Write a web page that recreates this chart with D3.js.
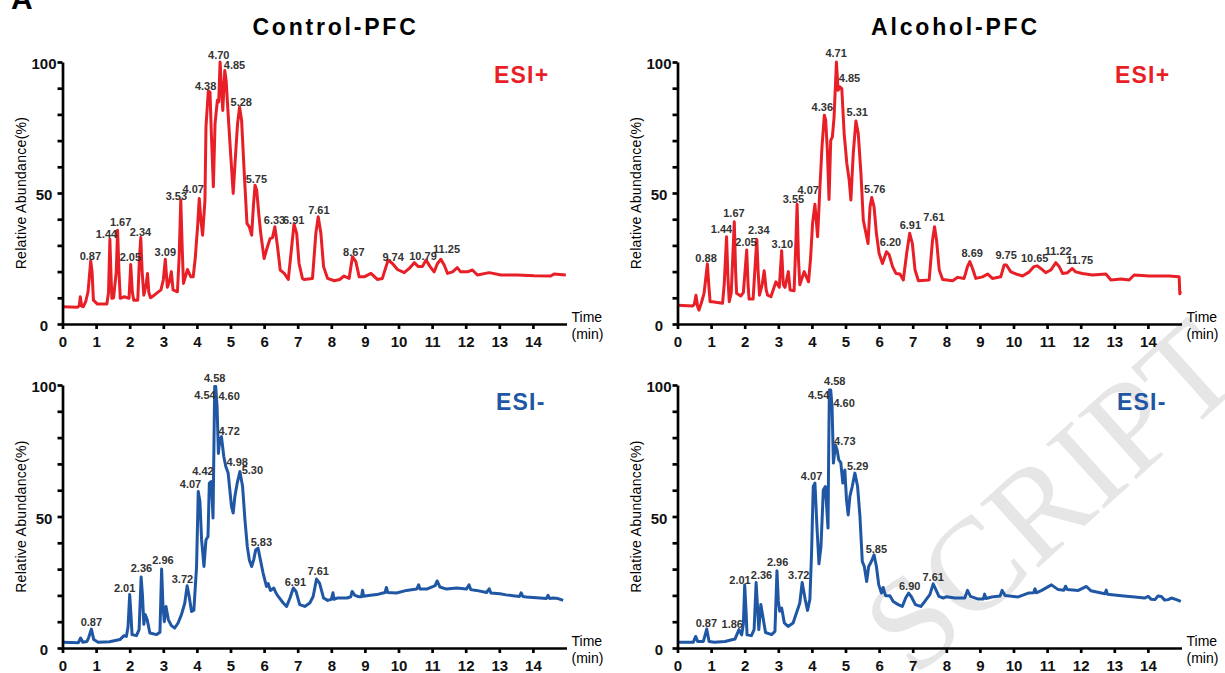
<!DOCTYPE html>
<html>
<head>
<meta charset="utf-8">
<title>Control-PFC vs Alcohol-PFC TIC</title>
<script src="https://d3js.org/d3.v7.min.js"></script>
<style>
  body { margin: 0; background: #fff; }
  svg { display: block; }
  .tick line, .domain { stroke: #000; stroke-width: 2.7; }
  .tick text { font-family: "Liberation Sans Narrow", "Arial Narrow", "Liberation Sans", sans-serif; font-weight: bold; font-size: 15px; fill: #111; }
  .peak { font-family: "Liberation Sans Narrow", "Arial Narrow", "Liberation Sans", sans-serif; font-weight: bold; font-size: 11px; fill: #333; }
</style>
</head>
<body>
<svg width="1225" height="673"></svg>
<script>
// ---- data ----
const titles = ["Control-PFC", "Alcohol-PFC"];
const xTicks = d3.range(0, 15);
const yTicks = d3.range(0, 101, 10);
const yLabels = [0, 50, 100];

const ctrlPos = [[0,6.6],[0.45,6.4],[0.5,7],[0.53,10.4],[0.57,6.8],[0.62,6.6],[0.69,8.5],[0.76,12.3],[0.84,24.1],[0.88,20],[0.92,9.1],[1.04,7.6],[1.32,7.6],[1.37,12],[1.41,32.3],[1.44,20],[1.47,9.8],[1.52,10],[1.6,20],[1.64,35.8],[1.68,20],[1.72,9.8],[1.84,10.4],[1.98,9.8],[2.03,22.7],[2.08,12],[2.12,9.1],[2.24,9.1],[2.29,25],[2.33,33.0],[2.37,20],[2.42,11],[2.49,15],[2.53,19.3],[2.57,12],[2.62,10],[2.73,11],[2.93,13],[3.0,16.8],[3.06,24.7],[3.12,14],[3.18,16],[3.24,20],[3.29,13],[3.42,12.3],[3.47,25],[3.52,47.3],[3.56,30],[3.6,15.5],[3.72,20.8],[3.82,18],[3.89,18],[3.95,25],[4.02,37.1],[4.07,47.9],[4.12,39.6],[4.17,33.9],[4.24,47.3],[4.27,75.2],[4.34,89.0],[4.39,88.5],[4.43,72.7],[4.49,52.4],[4.54,76.5],[4.61,85.4],[4.65,84.8],[4.69,100],[4.73,90.4],[4.77,81.5],[4.83,96.8],[4.87,93],[4.93,80],[5.01,63.8],[5.08,49.8],[5.14,62.5],[5.21,76.5],[5.27,82.8],[5.33,77.8],[5.41,57.4],[5.49,38.4],[5.56,37.1],[5.63,33.9],[5.68,44.7],[5.73,53],[5.78,51.1],[5.85,40.9],[5.9,34.6],[6.0,25],[6.1,29.5],[6.18,32.6],[6.25,33],[6.32,37.1],[6.4,29.5],[6.48,20.6],[6.6,19.3],[6.72,17],[6.8,26.9],[6.89,38.1],[6.97,34.6],[7.04,23.1],[7.14,17.4],[7.19,17],[7.44,17.4],[7.54,34.6],[7.61,40.9],[7.69,34.6],[7.77,21.9],[7.89,17.4],[8.09,16.5],[8.25,17],[8.38,18.3],[8.53,17.4],[8.63,25.7],[8.73,23.8],[8.83,18],[8.98,18],[9.18,19.3],[9.37,17],[9.52,17.4],[9.69,24.4],[9.82,23.1],[9.97,20.8],[10.17,19.6],[10.32,21.2],[10.47,23.4],[10.59,21.9],[10.71,21.9],[10.82,24.4],[10.94,21.9],[11.06,19.9],[11.16,23.1],[11.26,24.7],[11.36,22.5],[11.46,19.3],[11.61,19.9],[11.75,21.5],[11.85,19.9],[12.05,19.9],[12.2,20.6],[12.35,18.7],[12.7,19.6],[13.05,18.7],[13.54,18.7],[14.04,18.4],[14.53,18.3],[14.63,19.1],[14.98,18.7]];

const alcPos = [[0,7.2],[0.45,6.9],[0.5,7.5],[0.55,11],[0.6,6.6],[0.64,5.3],[0.72,8.5],[0.79,11.7],[0.89,22.9],[0.93,15],[0.97,8.5],[1.04,8.5],[1.34,7.9],[1.39,15],[1.46,33.3],[1.5,18],[1.54,8.5],[1.6,12],[1.69,39],[1.73,20],[1.76,11.7],[1.88,10.7],[1.96,12],[2.06,28.2],[2.1,15],[2.13,9.5],[2.25,9.5],[2.3,20],[2.36,32.3],[2.4,20],[2.44,11],[2.52,15],[2.58,20.3],[2.64,13],[2.68,11],[2.78,10.4],[2.93,16.1],[3.03,14],[3.1,28],[3.15,15],[3.2,14],[3.3,20],[3.35,13],[3.47,12.7],[3.52,30],[3.56,45.7],[3.6,25],[3.64,15],[3.77,20],[3.9,16.1],[3.96,25],[4.02,38.4],[4.09,45.7],[4.17,33.3],[4.24,52.4],[4.3,67.6],[4.37,79.7],[4.41,77.8],[4.46,66.3],[4.51,47.5],[4.56,70.1],[4.61,71.4],[4.66,79],[4.73,100],[4.78,89.2],[4.83,90.5],[4.89,89.8],[4.96,72.7],[5.04,61.2],[5.11,54.9],[5.16,47.3],[5.23,65],[5.31,77.5],[5.38,72.7],[5.46,57.4],[5.53,39.6],[5.61,34.6],[5.67,30.7],[5.73,44.7],[5.78,48.3],[5.85,44.7],[5.92,34.6],[6.0,26.9],[6.1,23.1],[6.22,27.6],[6.3,26.4],[6.4,21.9],[6.5,19.3],[6.62,19.1],[6.72,16.8],[6.82,26.9],[6.91,34.6],[6.99,30.7],[7.07,20.6],[7.17,16.5],[7.49,16.8],[7.59,32],[7.65,37.1],[7.71,32],[7.79,20.6],[7.89,17],[8.19,16.5],[8.34,17.8],[8.53,17.4],[8.63,21.9],[8.7,23.8],[8.78,21.2],[8.88,17.4],[9.08,18],[9.23,19.1],[9.37,17.4],[9.62,18],[9.72,22.5],[9.79,22.5],[9.92,19.9],[10.07,19.1],[10.27,18.3],[10.47,19.9],[10.61,21.9],[10.71,22.2],[10.81,21.2],[10.96,19.6],[11.11,20.6],[11.26,23.4],[11.36,21.9],[11.46,19.3],[11.61,19.6],[11.75,21.2],[11.85,19.9],[12.05,19.3],[12.35,18.7],[12.75,19.1],[12.9,16.8],[13.2,17.2],[13.44,16.8],[13.59,18.7],[14.04,18.3],[14.63,18.3],[14.93,18],[14.95,11.5],[14.97,12.5]];

const ctrlNeg = [[0,2.2],[0.47,2],[0.54,3.8],[0.6,2.2],[0.73,2.5],[0.78,4],[0.86,7.2],[0.93,3.2],[1.06,2.2],[1.4,2.4],[1.71,3.2],[1.83,4.7],[1.9,4.4],[1.95,8],[2.0,20.3],[2.04,12],[2.07,5.1],[2.2,4.7],[2.28,7],[2.34,27],[2.38,20],[2.42,9],[2.46,12.7],[2.52,10.8],[2.6,5.7],[2.8,5.1],[2.9,6],[2.95,30],[2.99,16],[3.03,10],[3.08,15.8],[3.15,10.8],[3.24,8.5],[3.34,7.6],[3.44,9.5],[3.54,12.7],[3.64,17.1],[3.71,23.7],[3.77,19.6],[3.84,13.9],[3.91,14.4],[3.99,31],[4.04,59.5],[4.09,55.7],[4.14,41.1],[4.21,31],[4.27,41.1],[4.33,42.4],[4.37,62.7],[4.43,63.3],[4.48,49.4],[4.51,80],[4.53,99.4],[4.56,99.4],[4.6,91.8],[4.64,74],[4.68,79.1],[4.73,80.4],[4.8,72.8],[4.86,69],[4.93,66.5],[4.98,60.1],[5.03,53.8],[5.08,51.3],[5.13,57.6],[5.2,62.7],[5.28,67.1],[5.36,61.4],[5.43,48.7],[5.5,38.6],[5.56,33.5],[5.63,31],[5.69,33.5],[5.75,37.3],[5.82,38],[5.89,33.5],[5.97,28.5],[6.07,23.4],[6.12,24.5],[6.19,21.9],[6.29,22.8],[6.35,21],[6.42,19.6],[6.57,17.1],[6.67,15.8],[6.77,19],[6.87,22.8],[6.95,21.5],[7.06,16.5],[7.21,15.8],[7.36,17.1],[7.46,19.6],[7.56,26.2],[7.65,24.7],[7.77,19],[7.89,18.1],[8.0,18.5],[8.05,21],[8.08,18.5],[8.17,19],[8.47,19],[8.58,19.5],[8.62,21.5],[8.7,20],[8.82,19.5],[8.9,19.5],[8.93,22],[8.96,19.7],[9.05,19.9],[9.35,20.3],[9.6,21.1],[9.64,23],[9.68,21.1],[9.94,20.9],[10.24,21.9],[10.54,22.4],[10.6,24],[10.64,22.4],[10.84,22.4],[11.09,23.7],[11.15,25.5],[11.23,23.2],[11.43,22.4],[11.73,22.8],[12.02,22.4],[12.1,24],[12.15,22.2],[12.32,21.9],[12.62,21.1],[12.7,22.5],[12.75,20.9],[13.02,20.6],[13.2,20.2],[13.41,19.9],[13.6,19.6],[13.65,21],[13.7,19.6],[13.81,19.4],[14.0,19.2],[14.21,19],[14.4,18.8],[14.45,20],[14.5,18.8],[14.6,19],[14.75,18.8],[14.9,18.1]];

const alcNeg = [[0,2.2],[0.47,2.2],[0.54,4.4],[0.6,2.5],[0.77,2.5],[0.87,7.2],[0.94,2.5],[1.1,2.2],[1.41,2.5],[1.71,3.4],[1.83,7],[1.91,5],[1.96,9],[2.0,24],[2.04,14],[2.07,5],[2.2,4.7],[2.28,7],[2.34,24.9],[2.38,16],[2.42,7],[2.48,16.5],[2.54,12],[2.62,5.9],[2.8,5.1],[2.9,6.3],[2.96,29.4],[3.0,18],[3.04,14],[3.1,15.2],[3.18,9.5],[3.29,8.2],[3.44,9.5],[3.54,13.3],[3.64,17.1],[3.71,24.9],[3.8,18.5],[3.87,14.3],[3.94,18.5],[3.99,36.1],[4.04,61.4],[4.09,62.7],[4.15,46.2],[4.21,32],[4.27,38.6],[4.34,60.1],[4.4,61.4],[4.48,45.6],[4.5,75],[4.52,98.1],[4.56,98.1],[4.6,91.8],[4.64,70.3],[4.7,77.2],[4.75,75.3],[4.8,71.5],[4.86,70.5],[4.92,62.7],[4.98,67.7],[5.03,56.3],[5.08,50.6],[5.13,57.6],[5.2,61.4],[5.28,66.5],[5.36,61.4],[5.43,50],[5.5,32.9],[5.56,31],[5.63,25.3],[5.69,31],[5.77,32.9],[5.85,35.4],[5.92,31],[5.99,24],[6.07,20.9],[6.12,23],[6.19,19.9],[6.32,19.9],[6.42,17.7],[6.57,16.5],[6.69,15.8],[6.79,19],[6.88,20.9],[6.96,19.5],[7.08,16.5],[7.24,15.8],[7.36,17.7],[7.51,20.3],[7.61,24.4],[7.68,22.5],[7.78,19.6],[7.91,19],[8.0,19.5],[8.26,19],[8.55,19],[8.63,21.9],[8.72,19.6],[8.95,18.6],[9.1,18.6],[9.14,20.5],[9.18,18.8],[9.35,19.4],[9.6,19.8],[9.66,21.9],[9.75,20],[10.14,19.4],[10.44,20.9],[10.6,21],[10.64,22.5],[10.68,21],[10.84,21.9],[11.13,24],[11.33,22.2],[11.5,22],[11.55,23.5],[11.6,22.2],[11.93,21.9],[12.17,23.4],[12.3,21.8],[12.72,20.6],[12.76,22],[12.8,20.4],[13.21,19.9],[13.61,19.4],[13.9,19],[14.01,19.6],[14.1,18.5],[14.21,18.4],[14.3,19.8],[14.4,19.6],[14.5,18.2],[14.6,18.4],[14.7,19],[14.85,18.4],[14.98,17.7]];

// peak labels: [text, time, abundance] at the label's centre
const ctrlPosPeaks = [["0.87",0.83,26],["1.44",1.31,34.2],["1.67",1.73,38.7],["2.05",2.02,25.7],["2.34",2.32,35],["3.09",3.06,27.4],["3.53",3.39,48.9],["4.07",3.89,51.5],["4.38",4.26,90.8],["4.70",4.65,102.7],["4.85",5.12,98.9],["5.28",5.32,84.7],["5.75",5.77,55.2],["6.33",6.31,39.7],["6.91",6.88,39.7],["7.61",7.63,43.5],["8.67",8.67,27.6],["9.74",9.84,25.5],["10.79",10.73,26],["11.25",11.43,28.6]];
const alcPosPeaks = [["0.88",0.85,25.3],["1.44",1.31,36.1],["1.67",1.68,42.2],["2.05",2.04,31.2],["2.34",2.42,35.9],["3.10",3.12,30.5],["3.55",3.45,47.6],["4.07",3.89,51.1],["4.36",4.31,82.7],["4.71",4.72,103.3],["4.85",5.12,94],["5.31",5.35,81],["5.76",5.87,51.5],["6.20",6.34,31.4],["6.91",6.93,37.8],["7.61",7.63,40.7],["8.69",8.77,27],["9.75",9.78,26.1],["10.65",10.63,25.3],["11.22",11.33,27.9],["11.75",11.97,24.2]];
const ctrlNegPeaks = [["0.87",0.86,9.7],["2.01",1.85,22.8],["2.36",2.35,30.2],["2.96",2.99,33.3],["3.72",3.57,26.2],["4.07",3.81,62.4],["4.42",4.18,67.3],["4.54",4.24,96.2],["4.58",4.53,102.5],["4.60",4.96,95.6],["4.72",4.96,82.6],["4.98",5.2,70.8],["5.30",5.65,67.5],["5.83",5.92,40.3],["6.91",6.93,25.1],["7.61",7.61,29.4]];
const alcNegPeaks = [["0.87",0.86,9.5],["1.86",1.63,9.1],["2.01",1.86,25.9],["2.36",2.5,27.8],["2.96",2.98,32.5],["3.72",3.61,27.8],["4.07",3.99,65.4],["4.54",4.2,96.2],["4.58",4.68,101.3],["4.60",4.96,93.1],["4.73",4.98,78.8],["5.29",5.36,69],["5.85",5.92,37.6],["6.90",6.91,23.7],["7.61",7.61,26.8]];

// ---- layout ----
const red = "#e81f27", blue = "#1f57a4";
const pxPerMin = 33.6;
const panels = [
  {x0: 62.5,  yTop: 62,  yBot: 324, data: ctrlPos, peaks: ctrlPosPeaks, color: red,  ion: "ESI+", ionX: 494,  ionY: 83},
  {x0: 677.5, yTop: 62,  yBot: 324, data: alcPos,  peaks: alcPosPeaks,  color: red,  ion: "ESI+", ionX: 1115, ionY: 83},
  {x0: 62.5,  yTop: 385, yBot: 648, data: ctrlNeg, peaks: ctrlNegPeaks, color: blue, ion: "ESI-", ionX: 496,  ionY: 410},
  {x0: 677.5, yTop: 385, yBot: 648, data: alcNeg,  peaks: alcNegPeaks,  color: blue, ion: "ESI-", ionX: 1117, ionY: 410}
];

const svg = d3.select("svg");

// faint watermark behind everything
svg.append("text")
  .attr("transform", "translate(1081,529) rotate(-42)")
  .attr("text-anchor", "middle")
  .style("font-family", "Liberation Serif, serif")
  .style("font-size", "132px")
  .style("fill", "#e6e6e6")
  .text("SCRIPT");

svg.append("text")
  .attr("x", 11).attr("y", 8.5)
  .style("font-family", "Liberation Sans, Arial, sans-serif")
  .style("font-weight", "bold").style("font-size", "30px")
  .text("A");

[335.5, 955.5].forEach((cx, i) => {
  svg.append("text")
    .attr("x", cx).attr("y", 34.5)
    .attr("text-anchor", "middle")
    .style("font-family", "Liberation Sans, Arial, sans-serif")
    .style("font-weight", "bold").style("font-size", "23px")
    .style("letter-spacing", "2.8px")
    .text(titles[i]);
});

panels.forEach(p => {
  const x = d3.scaleLinear().domain([0, 15]).range([p.x0, p.x0 + 15 * pxPerMin]);
  const y = d3.scaleLinear().domain([0, 100]).range([p.yBot, p.yTop]);
  const g = svg.append("g");

  const line = d3.line().x(d => x(d[0])).y(d => y(d[1]));
  g.append("path")
    .datum(p.data)
    .attr("d", line)
    .attr("fill", "none")
    .attr("stroke", p.color)
    .attr("stroke-width", 3)
    .attr("stroke-linejoin", "round");

  g.selectAll(".peak")
    .data(p.peaks)
    .enter()
    .append("text")
    .attr("class", "peak")
    .attr("x", d => x(d[1]))
    .attr("y", d => y(d[2]))
    .attr("dy", "0.35em")
    .attr("text-anchor", "middle")
    .text(d => d[0]);

  const xa = g.append("g")
    .attr("transform", `translate(0,${p.yBot})`)
    .call(d3.axisBottom(x).tickValues(xTicks).tickSize(5).tickSizeOuter(0).tickPadding(4));
  xa.selectAll(".tick text").attr("dy", "0.9em");

  const ya = g.append("g")
    .attr("transform", `translate(${p.x0},0)`)
    .call(d3.axisLeft(y).tickValues(yTicks).tickSize(5).tickSizeOuter(0)
      .tickFormat(d => yLabels.includes(d) ? d : ""));
  ya.selectAll(".tick text")
    .attr("text-anchor", "middle")
    .attr("x", -18.5)
    .attr("dy", "0.45em");

  g.append("text")
    .attr("transform", `translate(${p.x0 - 41.5},${(p.yTop + p.yBot) / 2}) rotate(-90)`)
    .attr("dy", "0.35em")
    .attr("text-anchor", "middle")
    .style("font-family", "Liberation Sans, Arial, sans-serif")
    .style("font-size", "14px")
    .style("letter-spacing", "0.3px")
    .text("Relative Abundance(%)");

  const tl = g.append("text")
    .style("font-family", "Liberation Sans, Arial, sans-serif")
    .style("font-size", "14px");
  tl.append("tspan").attr("x", x(15) + 5).attr("y", p.yBot - 2).text("Time");
  tl.append("tspan").attr("x", x(15) + 5).attr("y", p.yBot + 15).text("(min)");

  g.append("text")
    .attr("x", p.ionX).attr("y", p.ionY)
    .style("font-family", "Liberation Sans, Arial, sans-serif")
    .style("font-weight", "bold").style("font-size", "23px")
    .style("letter-spacing", "1.2px")
    .style("fill", p.color)
    .text(p.ion);
});
</script>
</body>
</html>
